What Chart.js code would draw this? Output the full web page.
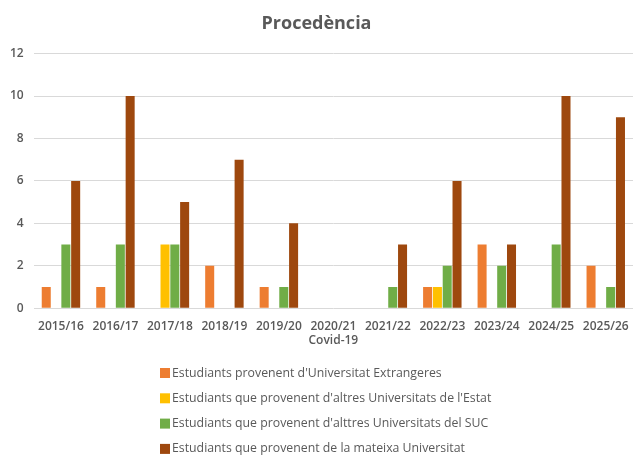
<!DOCTYPE html>
<html>
<head>
<meta charset="utf-8">
<script src="https://cdn.jsdelivr.net/npm/chart.js@4.4.0/dist/chart.umd.min.js"></script>
<style>
  html, body { margin: 0; padding: 0; background: #fff; }
  #wrap { width: 643px; height: 465px; }
</style>
</head>
<body>
<div id="wrap"><canvas id="chart"></canvas></div>
<script>
// categories and series
const years = ['2015/16', '2016/17', '2017/18', '2018/19', '2019/20', ['2020/21', 'Covid-19'],
  '2021/22', '2022/23', '2023/24', '2024/25', '2025/26'];
const foreign = [1, 1, 0, 2, 1, 0, 0, 1, 3, 0, 2];
const otherSpain = [0, 0, 3, 0, 0, 0, 0, 1, 0, 0, 0];
const otherSuc = [3, 3, 3, 0, 1, 0, 1, 2, 2, 3, 1];
const sameUni = [6, 10, 5, 7, 4, 0, 3, 6, 3, 10, 9];
const seriesNames = [
  "Estudiants provenent d'Universitat Extrangeres",
  "Estudiants que provenent d'altres Universitats de l'Estat",
  "Estudiants que provenent d'alttres Universitats del SUC",
  "Estudiants que provenent de la mateixa Universitat"
];
const colors = ['#ED7D31', '#FFC000', '#70AD47', '#9E480E'];

const FONT = "'Open Sans', sans-serif";
const TEXT = '#595959';

// vertical legend under the plot, one entry per line
const listLegend = {
  id: 'listLegend',
  afterDraw(chart) {
    const ctx = chart.ctx;
    const x = 160, y0 = 373, step = 25.3;
    ctx.save();
    ctx.font = '500 12.3px ' + FONT;
    ctx.textBaseline = 'middle';
    chart.data.datasets.forEach((ds, i) => {
      const y = y0 + i * step;
      ctx.fillStyle = ds.backgroundColor;
      ctx.fillRect(x, y - 5, 10, 10);
      ctx.fillStyle = TEXT;
      ctx.fillText(ds.label, x + 12, y);
    });
    ctx.restore();
  }
};

const datasets = [foreign, otherSpain, otherSuc, sameUni].map((vals, i) => ({
  label: seriesNames[i],
  data: vals,
  backgroundColor: colors[i],
  borderWidth: 0,
  barPercentage: 0.92,
  categoryPercentage: 0.72
}));

new Chart(document.getElementById('chart'), {
  type: 'bar',
  data: { labels: years, datasets: datasets },
  options: {
    responsive: true,
    maintainAspectRatio: false,
    animation: false,
    layout: { padding: { left: 0, right: 10, top: 4, bottom: 114 } },
    plugins: {
      legend: { display: false },
      tooltip: { enabled: false },
      title: {
        display: true,
        text: 'Procedència',
        color: TEXT,
        font: { family: FONT, size: 18, weight: 'bold' },
        padding: { top: 9, bottom: 19 }
      }
    },
    scales: {
      x: {
        grid: { display: false },
        border: { display: false },
        ticks: { color: TEXT, font: { family: FONT, size: 12, weight: '600' }, maxRotation: 0, autoSkip: false, padding: 3 }
      },
      y: {
        min: 0,
        max: 12,
        ticks: { stepSize: 2, color: TEXT, font: { family: FONT, size: 12, weight: '600' }, padding: 10 },
        grid: { color: '#D9D9D9', drawTicks: false },
        border: { display: false }
      }
    }
  },
  plugins: [listLegend]
});
</script>
</body>
</html>
